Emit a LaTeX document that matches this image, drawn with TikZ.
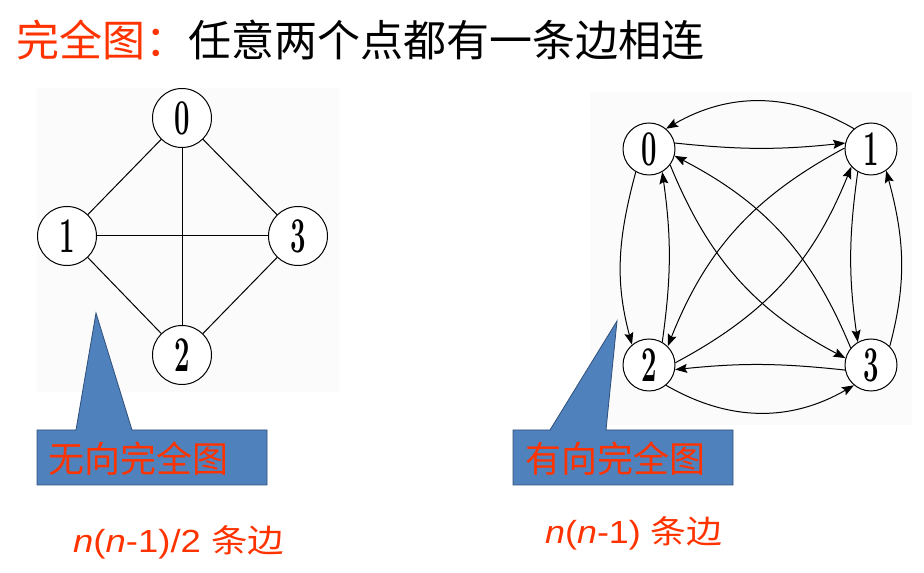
\documentclass[tikz,border=0pt]{standalone}
\usepackage{fontspec}
\usepackage{graphicx}
\newfontfamily\cjk{Noto Sans CJK SC}
\newfontfamily\arial{Liberation Sans}
\usetikzlibrary{arrows.meta}
\definecolor{tred}{HTML}{FF3300}
\definecolor{cfill}{HTML}{4F81BD}
\definecolor{cline}{HTML}{2F4F7A}
\definecolor{bgg}{HTML}{FBFBFB}
\newcommand\dg[1]{\scalebox{0.55}[1]{\fontsize{50}{50}\selectfont\bfseries #1}}
\begin{document}
\begin{tikzpicture}[x=1pt,y=1pt,
  lv/.style={circle,draw,line width=1pt,minimum size=59pt,inner sep=0pt,fill=white},
  rv/.style={circle,draw,line width=1pt,minimum size=52pt,inner sep=0pt,fill=white},
  ue/.style={line width=1pt},
  de/.style={line width=1pt,-{Stealth[length=12pt,width=9pt,inset=2pt]}},
  callout/.style={fill=cfill,draw=cline,line width=0.8pt},
  bg/.style={fill=bgg,draw=none}]
\useasboundingbox (0,0) rectangle (924,573);
% faint backgrounds
\fill[bg] (37,181) rectangle (339,485);
\fill[bg] (590,148) rectangle (912,481);
% title
\node[anchor=west,inner sep=0pt,font=\cjk\fontsize{43}{43}\selectfont] (title) at (16,533)
  {\textcolor{tred}{完全图：}任意两个点都有一条边相连};
% left graph
\node[lv] (L0) at (182,455) {\dg{0}};
\node[lv] (L1) at (67,337) {\dg{1}};
\node[lv] (L2) at (182,218) {\dg{2}};
\node[lv] (L3) at (298,337) {\dg{3}};
\draw[ue] (L0) -- (L1);
\draw[ue] (L0) -- (L3);
\draw[ue] (L0) -- (L2);
\draw[ue] (L1) -- (L3);
\draw[ue] (L1) -- (L2);
\draw[ue] (L2) -- (L3);
% right graph
\node[rv] (R0) at (649,424) {\dg{0}};
\node[rv] (R1) at (871,424) {\dg{1}};
\node[rv] (R2) at (649,208) {\dg{2}};
\node[rv] (R3) at (871,208) {\dg{3}};
\draw[de] (R1.130) to[out=150,in=30] (R0.50);
\draw[de] (R0.13) to[bend right=6] (R1.167);
\draw[de] (R0.-120) to[out=-105,in=105] (R2.130);
\draw[de] (R2.60) to[bend right=8] (R0.-60);
\draw[de] (R1.-120) to[bend right=8] (R3.120);
\draw[de] (R3.45) to[out=75,in=-75] (R1.-55);
\draw[de] (R3.-169) to[bend right=6] (R2.-10);
\draw[de] (R2.-50) to[out=-30,in=-150] (R3.-130);
\draw[de] (R0.-37) to[bend right=20] (R3.165);
\draw[de] (R3.140) to[bend right=20] (R0.-15);
\draw[de] (R1.178) to[bend right=20] (R2.45);
\draw[de] (R2.5) to[bend right=20] (R1.-138);
% callouts
\draw[callout] (37,143) -- (76,143) -- (96,260) -- (132,143) -- (267,143) -- (267,88) -- (37,88) -- cycle;
\node[anchor=west,inner sep=0pt,text=tred,font=\cjk\fontsize{36}{36}\selectfont] (c1) at (48,114) {无向完全图};
\draw[callout] (513,143) -- (550,143) -- (617,252) -- (606,143) -- (733,143) -- (733,88) -- (513,88) -- cycle;
\node[anchor=west,inner sep=0pt,text=tred,font=\cjk\fontsize{36}{36}\selectfont] (c2) at (525,114) {有向完全图};
% formulas
\node[anchor=west,inner sep=0pt,text=tred] (f1) at (73,31)
  {\scalebox{1.14}[1]{\fontsize{32}{32}\selectfont\arial\itshape n\upshape(\itshape n\upshape-1)/2 {\cjk 条边}}};
\node[anchor=west,inner sep=0pt,text=tred] (f2) at (545,40)
  {\scalebox{1.12}[1]{\fontsize{32}{32}\selectfont\arial\itshape n\upshape(\itshape n\upshape-1) {\cjk 条边}}};
\end{tikzpicture}
\end{document}
